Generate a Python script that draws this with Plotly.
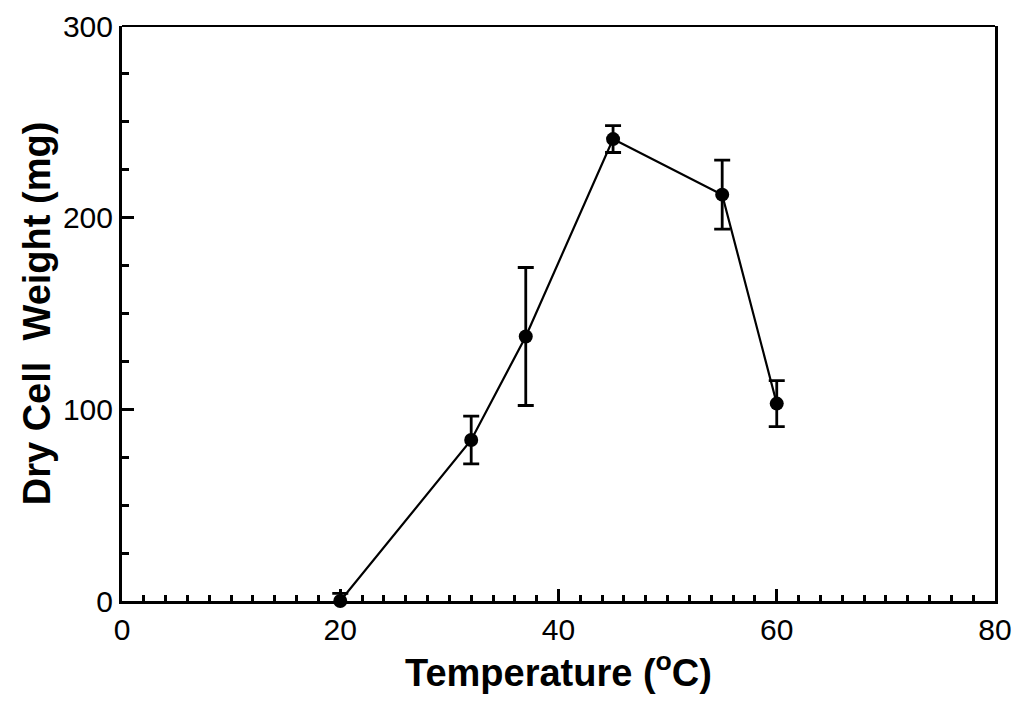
import plotly.graph_objects as go

temperature = [20, 32, 37, 45, 55, 60]
dry_weight = [0, 84, 138, 241, 212, 103]
weight_err = [4, 12.5, 36, 7, 18, 12]


def main():
    fig = go.Figure()

    fig.add_trace(
        go.Scatter(
            x=temperature,
            y=dry_weight,
            mode="lines+markers",
            line=dict(color="black", width=2.2),
            marker=dict(size=14, color="black"),
            error_y=dict(type="data", array=weight_err, color="black", thickness=2.8, width=8),
            cliponaxis=False,
            showlegend=False,
        )
    )

    # top border is thinner than the other three sides
    fig.add_shape(
        type="line", xref="paper", yref="paper",
        x0=0, x1=1, y0=1, y1=1,
        line=dict(color="black", width=2),
    )

    fig.update_xaxes(
        range=[0, 80],
        tickvals=[0, 20, 40, 60, 80],
        ticks="inside",
        ticklen=12,
        tickwidth=3,
        tickcolor="black",
        minor=dict(dtick=2, ticks="inside", ticklen=6, tickwidth=3, tickcolor="black"),
        showline=True,
        linewidth=3,
        linecolor="black",
        showgrid=False,
        zeroline=False,
        automargin=False,
        ticklabeloverflow="allow",
        tickfont=dict(size=30, color="black"),
        title=dict(text="<b>Temperature (<sup>o</sup>C)</b>", font=dict(size=38, color="black"), standoff=10),
    )
    fig.update_yaxes(
        range=[0, 300],
        tickvals=[0, 100, 200, 300],
        ticks="inside",
        ticklen=12,
        tickwidth=3,
        tickcolor="black",
        minor=dict(dtick=25, ticks="inside", ticklen=7, tickwidth=3, tickcolor="black"),
        showline=True,
        linewidth=3,
        linecolor="black",
        mirror=True,
        showgrid=False,
        zeroline=False,
        automargin=False,
        ticklabeloverflow="allow",
        tickfont=dict(size=30, color="black"),
        title=dict(text="<b>Dry Cell  Weight (mg)</b>", font=dict(size=38, color="black"), standoff=1),
    )

    # page adds an 8px body offset, margins compensate for it;
    # top kept a bit larger so the "300" label stays on the page
    fig.update_layout(
        width=1024,
        height=707,
        margin=dict(l=114, r=37, t=18, b=114),
        plot_bgcolor="white",
        paper_bgcolor="white",
        font=dict(family="Liberation Sans, Arial, sans-serif", color="black"),
    )

    fig.write_html("out.html")


if __name__ == "__main__":
    main()
